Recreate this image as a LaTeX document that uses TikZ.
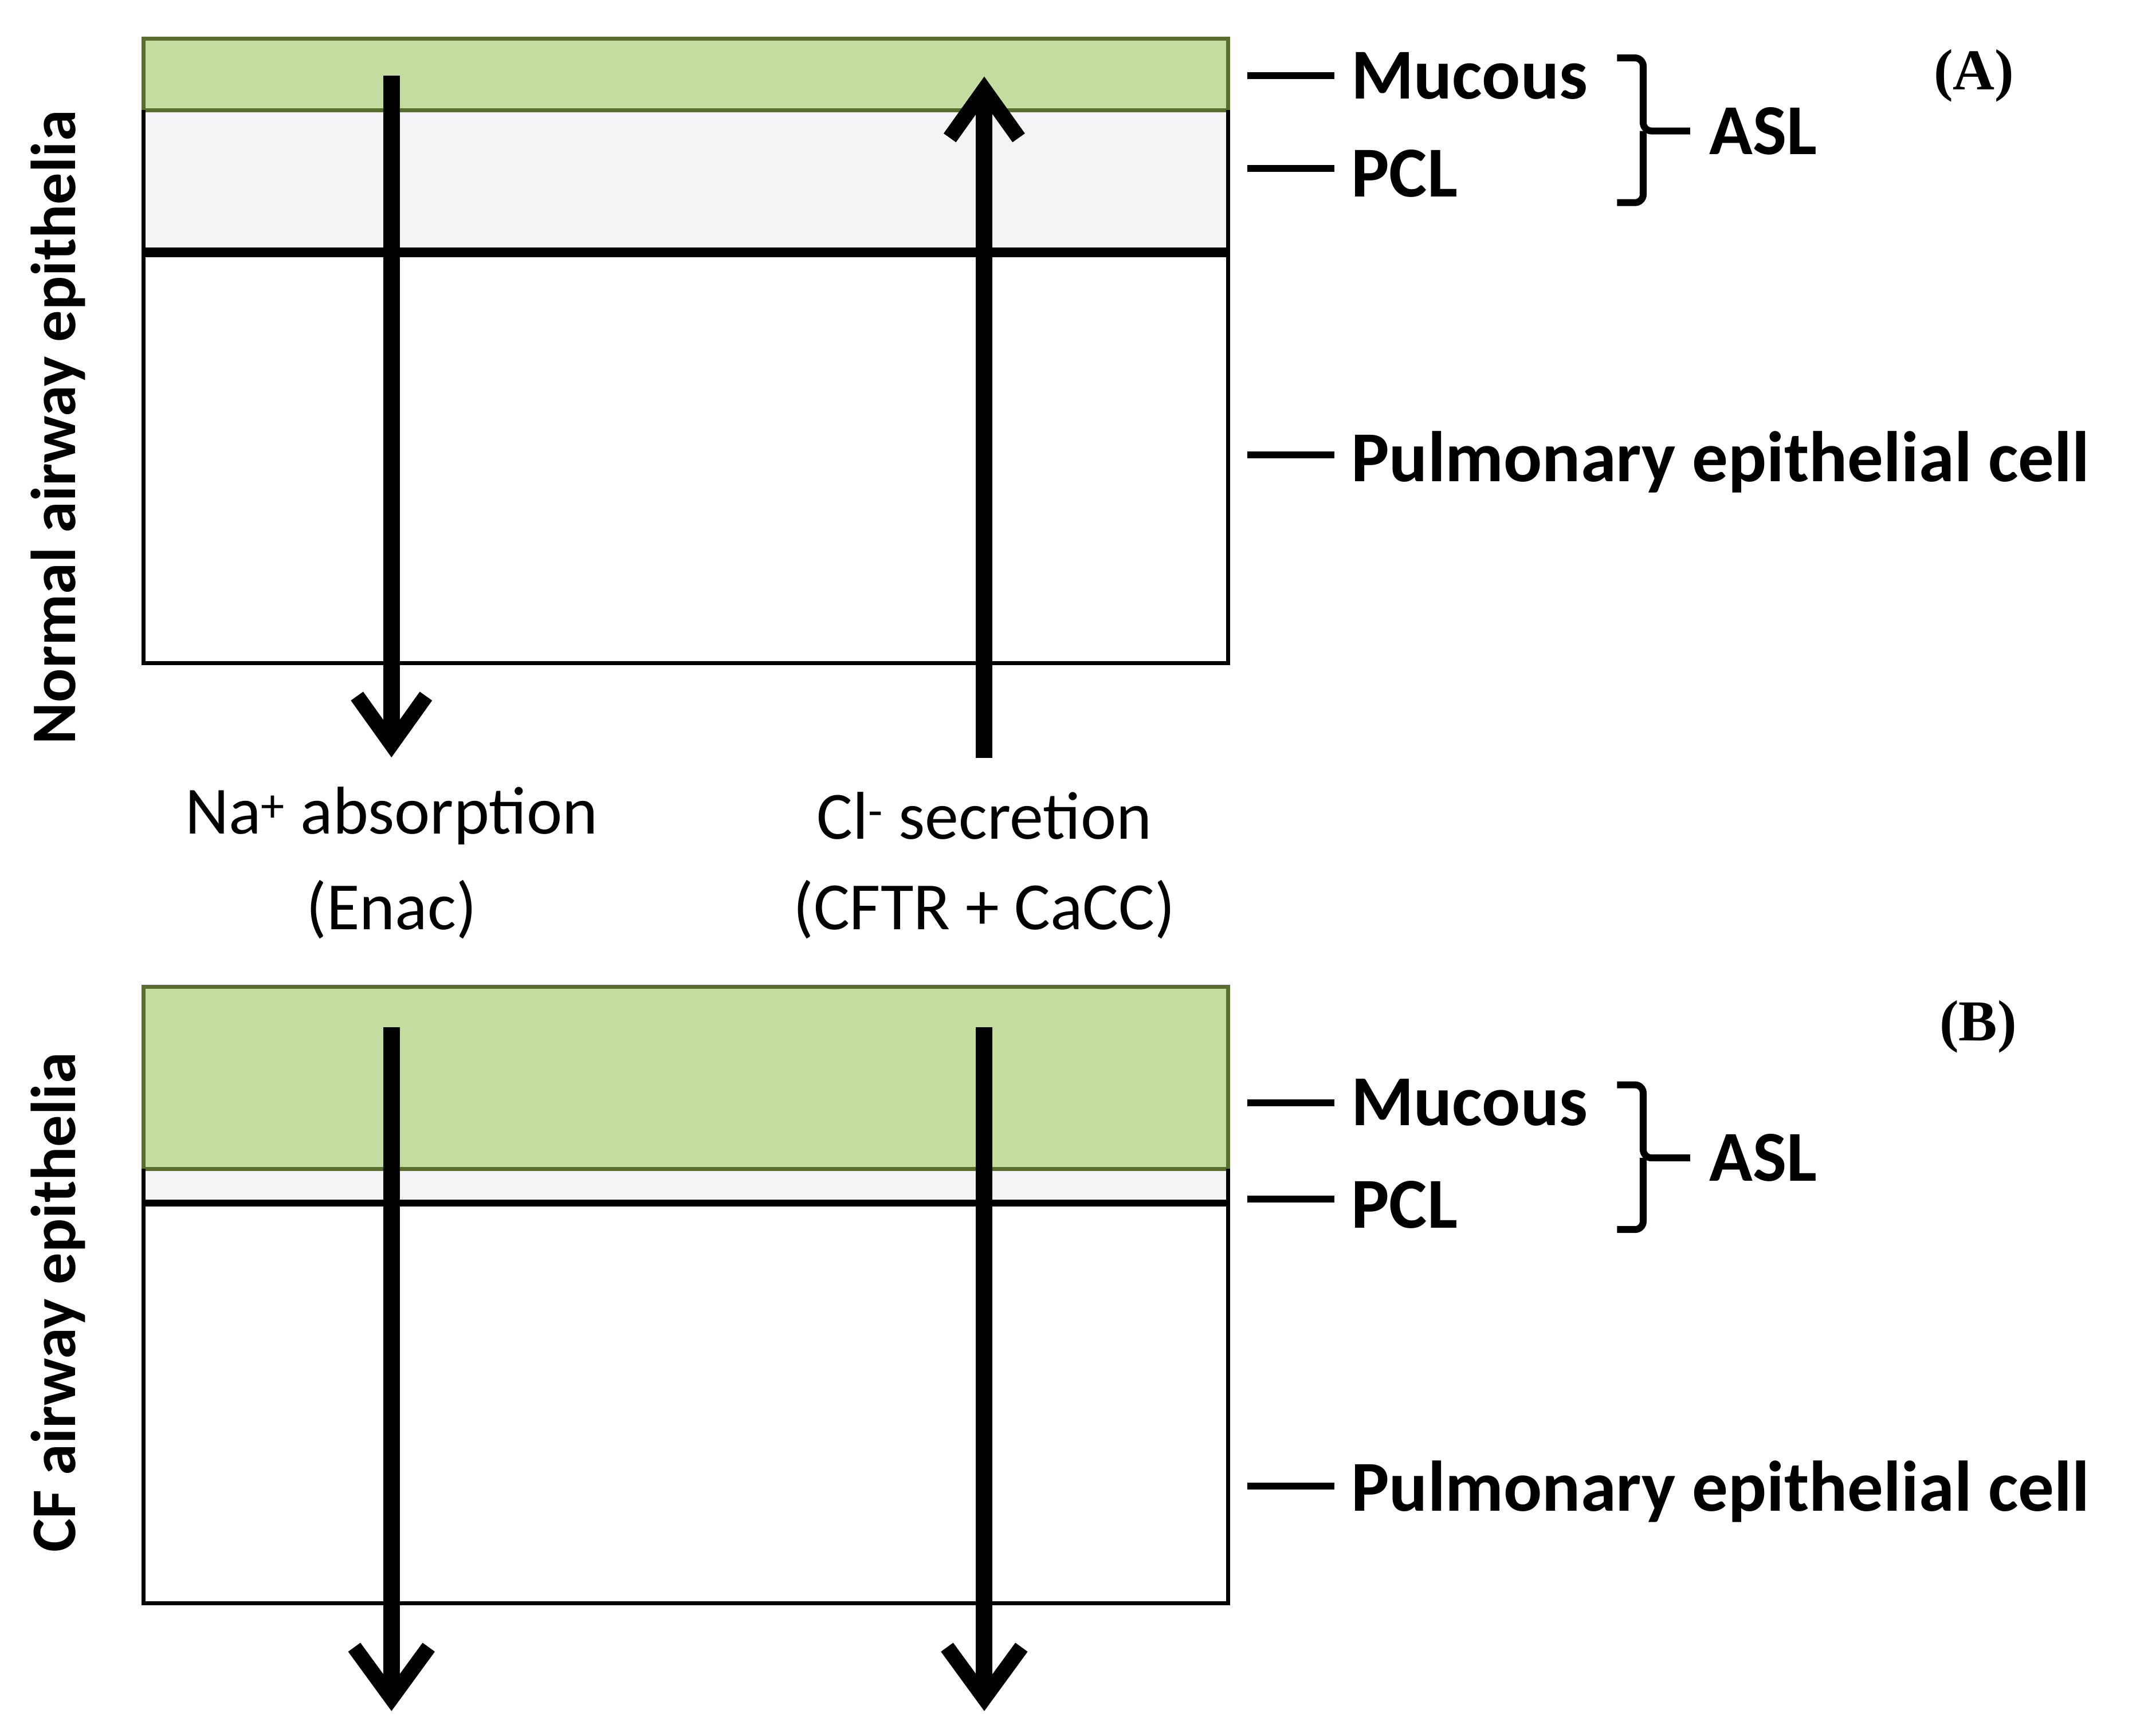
\documentclass[tikz,border=0pt]{standalone}
\usepackage{fontspec}
\setmainfont{Carlito}
\newfontfamily\serifb{Liberation Serif}
\definecolor{muc}{HTML}{C5DCA0}
\definecolor{mucb}{HTML}{5A6E2E}
\definecolor{pcl}{HTML}{F3F4F6}
\begin{document}
\begin{tikzpicture}[x=1pt,y=-1pt,
 shaft/.style={line width=12pt},
 head/.style={line width=11pt,line join=miter,miter limit=10},
 tick/.style={line width=5pt},
 lab/.style={anchor=west,font=\fontsize{52}{56}\selectfont\bfseries,inner sep=0},
 low/.style={font=\fontsize{49}{53}\selectfont,inner sep=0},
 side/.style={font=\fontsize{46}{50}\selectfont\bfseries,rotate=90,inner sep=0},
 brace/.style={line width=5pt,rounded corners=6pt}]
\useasboundingbox (0,0) rectangle (1564,1254);
% Panel A
\fill[pcl] (104,80) rectangle (891,183);
\draw[mucb,fill=muc,line width=3pt] (104,28) rectangle (891,80);
\draw[line width=3pt] (104,80) -- (104,481) -- (891,481) -- (891,80);
\draw[line width=7pt] (104,183) -- (891,183);
\coordinate (a1s) at (284,55); \coordinate (a1e) at (284,540);
\coordinate (a2s) at (714,550); \coordinate (a2e) at (714,65);
\draw[shaft] (a1s) -- (a1e);
\draw[head] (259,505) -- (284,540) -- (309,505);
\draw[shaft] (a2s) -- (a2e);
\draw[head] (689,100) -- (714,65) -- (739,100);
\node[low] (na) at (284,592) {Na\textsuperscript{+} absorption};
\node[low] (en) at (284,660) {(Enac)};
\node[low] (cl) at (714,592) {Cl\textsuperscript{-} secretion};
\node[low] (cf) at (714,660) {(CFTR + CaCC)};
\draw[tick] (905,55) -- (968,55); \node[lab] (m1) at (980,55) {Mucous};
\draw[tick] (905,122) -- (968,122); \node[lab] (p1) at (980,126) {PCL};
\draw[tick] (905,330) -- (968,330); \node[lab] (c1) at (980,335) {Pulmonary epithelial cell};
\draw[brace] (1173,42) -- (1192,42) -- (1192,95) -- (1226,95);
\draw[brace] (1173,147) -- (1192,147) -- (1192,95);
\node[lab] (asl1) at (1240,95) {ASL};
\node[font=\fontsize{42}{46}\selectfont\serifb\bfseries] (A) at (1432,55) {(A)};
\node[side] (nae) at (42,310) {Normal airway epithelia};
% Panel B
\fill[pcl] (104,848) rectangle (891,873);
\draw[mucb,fill=muc,line width=3pt] (104,716) rectangle (891,848);
\draw[line width=3pt] (104,848) -- (104,1163) -- (891,1163) -- (891,848);
\draw[line width=5pt] (104,873) -- (891,873);
\coordinate (b1s) at (284,745); \coordinate (b1e) at (284,1232);
\coordinate (b2s) at (714,745); \coordinate (b2e) at (714,1232);
\draw[shaft] (b1s) -- (b1e);
\draw[head] (257,1195) -- (284,1232) -- (311,1195);
\draw[shaft] (b2s) -- (b2e);
\draw[head] (687,1195) -- (714,1232) -- (741,1195);
\draw[tick] (905,800) -- (968,800); \node[lab] (m2) at (980,800) {Mucous};
\draw[tick] (905,870) -- (968,870); \node[lab] (p2) at (980,874) {PCL};
\draw[tick] (905,1078) -- (968,1078); \node[lab] (c2) at (980,1082) {Pulmonary epithelial cell};
\draw[brace] (1173,787) -- (1192,787) -- (1192,840) -- (1226,840);
\draw[brace] (1173,892) -- (1192,892) -- (1192,840);
\node[lab] (asl2) at (1240,840) {ASL};
\node[font=\fontsize{42}{46}\selectfont\serifb\bfseries] (B) at (1435,745) {(B)};
\node[side] (cfe) at (42,945) {CF airway epithelia};
\end{tikzpicture}
\end{document}
